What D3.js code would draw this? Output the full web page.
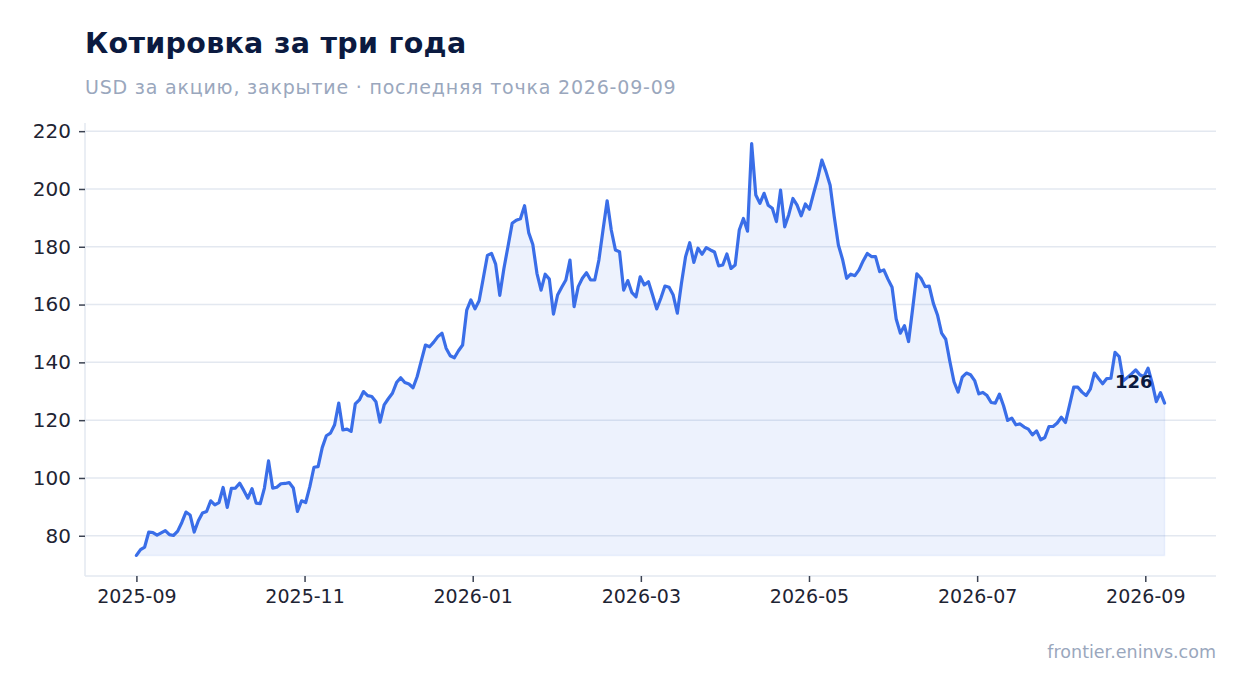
<!DOCTYPE html>
<html>
<head>
<meta charset="utf-8">
<script src="https://cdn.jsdelivr.net/npm/d3@7"></script>
<style>
  body { margin: 0; background: #fff; }
  svg { display: block; font-family: "DejaVu Sans", sans-serif; }
</style>
</head>
<body>
<div id="chart"></div>
<script>
'use strict';

var titleText = 'Котировка за три года';
var subtitleText = 'USD за акцию, закрытие · последняя точка 2026-09-09';
var sourceText = 'frontier.eninvs.com';

// first and last close, points are spread evenly between them
var firstDate = '2025-09-01';
var lastDate = '2026-09-09';

var closes = [
  73.2, 75.2, 76.1, 81.3, 81.1, 80.2, 81.0, 81.8, 80.4, 80.1,
  81.6, 84.6, 88.2, 87.2, 81.3, 85.2, 87.9, 88.4, 92.1, 90.7,
  91.5, 96.7, 89.8, 96.4, 96.5, 98.2, 95.7, 93.0, 96.3, 91.3,
  91.1, 96.5, 105.9, 96.5, 96.8, 98.0, 98.1, 98.4, 96.5, 88.4,
  92.1, 91.5, 97.0, 103.7, 103.9, 110.5, 114.6, 115.5, 118.4, 125.9,
  116.6, 116.9, 116.1, 125.6, 127.0, 129.9, 128.5, 128.2, 126.4, 119.3,
  125.3, 127.4, 129.3, 133.0, 134.7, 133.0, 132.5, 131.2, 135.1, 140.6,
  146.0, 145.4, 147.0, 148.9, 150.1, 144.9, 142.3, 141.6, 144.0, 146.0,
  158.1, 161.6, 158.5, 161.3, 169.1, 177.0, 177.7, 174.0, 163.2, 172.5,
  180.2, 188.1, 189.2, 189.7, 194.2, 184.9, 180.8, 170.8, 165.0, 170.5,
  168.8, 156.7, 163.3, 166.0, 168.5, 175.4, 159.3, 166.2, 169.1, 171.0,
  168.5, 168.5, 175.4, 185.8, 195.9, 185.8, 178.9, 178.3, 165.0, 168.3,
  164.1, 162.7, 169.6, 166.8, 167.9, 163.3, 158.5, 162.2, 166.4, 166.0,
  163.3, 157.0, 167.4, 176.6, 181.4, 174.6, 179.5, 177.4, 179.7, 178.9,
  178.2, 173.4, 173.7, 177.5, 172.5, 173.7, 185.8, 189.8, 185.4, 215.7,
  197.9, 195.0, 198.5, 194.4, 193.3, 188.7, 199.6, 186.9, 191.2, 196.7,
  194.4, 190.7, 194.8, 193.0, 198.5, 203.7, 210.0, 206.0, 201.3, 190.4,
  180.6, 175.7, 169.1, 170.5, 170.0, 172.0, 175.1, 177.7, 176.6, 176.6,
  171.4, 172.0, 168.8, 166.0, 155.0, 150.1, 152.7, 147.2, 158.7, 170.6,
  169.1, 166.2, 166.4, 160.4, 156.4, 150.1, 148.0, 140.3, 133.3, 129.7,
  134.9, 136.3, 135.7, 133.7, 129.1, 129.6, 128.5, 126.1, 125.9, 129.0,
  125.0, 119.9, 120.7, 118.4, 118.7, 117.6, 116.9, 114.9, 116.3, 113.2,
  114.0, 117.8, 117.8, 119.0, 121.0, 119.2, 125.3, 131.4, 131.4, 129.7,
  128.5, 130.7, 136.3, 134.4, 132.6, 134.4, 134.5, 143.5, 142.0, 133.6,
  134.8, 136.0, 137.4, 135.7, 135.0, 138.0, 132.8, 126.4, 129.5, 125.9
];

var yTicks = [80, 100, 120, 140, 160, 180, 200, 220];
var xTicks = ['2025-09-01', '2025-11-01', '2026-01-01', '2026-03-03', '2026-05-03', '2026-07-03', '2026-09-02'];

var width = 1247;
var height = 693;
var margin = {top: 123, right: 31, bottom: 117, left: 85};

var lineColor = '#3a6ee8';
var navy = '#0b1a40';
var muted = '#9aa7bd';
var gridColor = '#e3e8f0';

var parse = d3.utcParse('%Y-%m-%d');
var t0 = parse(firstDate).getTime();
var t1 = parse(lastDate).getTime();

var data = closes.map(function(v, i){
  return { date: new Date(t0 + (t1 - t0) * i / (closes.length - 1)), value: v };
});

var svg = d3.select('#chart').append('svg')
  .attr('width', width)
  .attr('height', height);

var span = t1 - t0;
var x = d3.scaleUtc()
  .domain([new Date(t0 - span * 0.05), new Date(t1 + span * 0.05)])
  .range([margin.left, width - margin.right]);

var yMin = d3.min(closes);
var yMax = d3.max(closes);
var yPad = (yMax - yMin) * 0.05;
var y = d3.scaleLinear()
  .domain([yMin - yPad, yMax + yPad])
  .range([height - margin.bottom, margin.top]);

// grid
svg.append('g')
  .attr('class', 'grid')
  .selectAll('line')
  .data(yTicks)
  .join('line')
    .attr('x1', margin.left)
    .attr('x2', width - margin.right)
    .attr('y1', function(d){ return y(d); })
    .attr('y2', function(d){ return y(d); })
    .attr('stroke', gridColor)
    .attr('stroke-width', 1.5);

// spines
svg.append('line')
  .attr('x1', margin.left).attr('x2', margin.left)
  .attr('y1', margin.top).attr('y2', height - margin.bottom)
  .attr('stroke', gridColor).attr('stroke-width', 1.5);
svg.append('line')
  .attr('x1', margin.left).attr('x2', width - margin.right)
  .attr('y1', height - margin.bottom).attr('y2', height - margin.bottom)
  .attr('stroke', gridColor).attr('stroke-width', 1.5);

// area under the line, down to the lowest close
var area = d3.area()
  .x(function(d){ return x(d.date); })
  .y0(y(yMin))
  .y1(function(d){ return y(d.value); });

svg.append('path')
  .datum(data)
  .attr('d', area)
  .attr('fill', lineColor)
  .attr('fill-opacity', 0.09)
  .attr('stroke', lineColor)
  .attr('stroke-opacity', 0.08)
  .attr('stroke-width', 1.5);

var line = d3.line()
  .x(function(d){ return x(d.date); })
  .y(function(d){ return y(d.value); });

svg.append('path')
  .datum(data)
  .attr('d', line)
  .attr('fill', 'none')
  .attr('stroke', lineColor)
  .attr('stroke-width', 3.2)
  .attr('stroke-linejoin', 'round')
  .attr('stroke-linecap', 'round');

// axes
var yAxis = svg.append('g')
  .attr('transform', 'translate(' + margin.left + ',0)')
  .call(d3.axisLeft(y).tickValues(yTicks).tickSize(6).tickPadding(8));

var xAxis = svg.append('g')
  .attr('transform', 'translate(0,' + (height - margin.bottom) + ')')
  .call(d3.axisBottom(x)
    .tickValues(xTicks.map(parse))
    .tickFormat(d3.utcFormat('%Y-%m'))
    .tickSize(6)
    .tickPadding(8));

[yAxis, xAxis].forEach(function(g){
  g.select('.domain').remove();
  g.selectAll('.tick line').attr('stroke', '#3b4252').attr('stroke-width', 1.5);
  g.selectAll('.tick text')
    .attr('fill', '#1e2433')
    .style('font-family', '"DejaVu Sans", sans-serif');
});
yAxis.selectAll('.tick text').style('font-size', '20px');
xAxis.selectAll('.tick text').style('font-size', '19px');

// last value label
var last = data[data.length - 1];
svg.append('text')
  .attr('x', x(last.date) - 12)
  .attr('y', y(last.value) - 15)
  .attr('text-anchor', 'end')
  .attr('fill', navy)
  .style('font-size', '18px')
  .style('font-weight', 'bold')
  .text(d3.format('.0f')(last.value));

// titles
svg.append('text')
  .attr('x', margin.left)
  .attr('y', 53)
  .attr('fill', navy)
  .style('font-size', '28.5px')
  .style('font-weight', 'bold')
  .style('letter-spacing', '0.3px')
  .text(titleText);

svg.append('text')
  .attr('x', margin.left)
  .attr('y', 94)
  .attr('fill', muted)
  .style('font-size', '19px')
  .style('letter-spacing', '0.8px')
  .text(subtitleText);

svg.append('text')
  .attr('x', width - margin.right)
  .attr('y', 658)
  .attr('text-anchor', 'end')
  .attr('fill', muted)
  .style('font-size', '17.5px')
  .text(sourceText);
</script>
</body>
</html>
